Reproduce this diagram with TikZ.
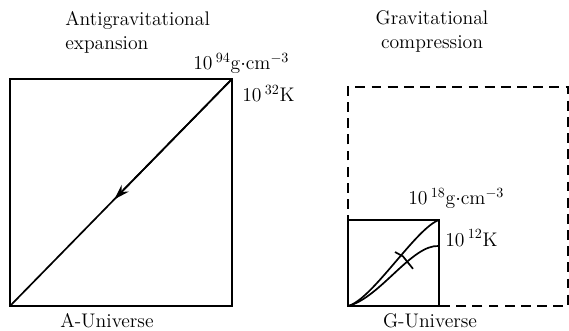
\documentclass[tikz,border=0pt]{standalone}
\usepackage{amsmath}
\usetikzlibrary{arrows.meta, positioning, calc}

\begin{document}
\begin{tikzpicture}[
    frame/.style={draw=black, line width=1.6pt},
    ghost/.style={draw=black, line width=1.2pt, dash pattern=on 7pt off 4.5pt},
    track/.style={draw=black, line width=1.2pt},
    lbl/.style={font=\fontsize{14}{17}\selectfont, inner sep=0pt},
  ]
  \useasboundingbox (0,0) rectangle (14.225,8.25);

  % A-Universe: expansion box with its diagonal
  \coordinate (Asw) at (0.25,0.6);
  \coordinate (Ane) at (5.8,6.275);
  \draw[frame] (Asw) rectangle (Ane);
  \draw[track] (Ane) -- (Asw);
  \draw[track, -{Stealth[length=11pt, width=7pt]}] (Ane) -- ($(Ane)!0.53!(Asw)$);

  \node[lbl, anchor=north west, align=left] (atitle) at (1.625,7.98) {Antigravitational\\expansion};
  \node[lbl, anchor=base west] (adens) at ($(Ane)+(-0.975,0.225)$) {10\,$^{94}$g$\cdot$cm$^{-3}$};
  \node[lbl, anchor=base west] (atemp) at ($(Ane)+(0.25,-0.575)$) {10\,$^{32}$K};
  \node[lbl, anchor=base] (aname) at (2.675,0.075) {A-Universe};

  % G-Universe: dashed outline and small compression box
  \coordinate (Gsw) at (8.7,0.6);
  \coordinate (Gne) at (10.975,2.75);
  \coordinate (Glow) at (10.975,2.1);
  \coordinate (Dne) at (14.2,6.075);
  \draw[ghost] (Gsw) rectangle (Dne);
  \draw[frame, fill=white] (Gsw) rectangle (Gne);
  \draw[track] (Gsw) .. controls (9.3,0.75) and (10.4,2.55) .. (Gne);
  \draw[track] (Gsw) .. controls (9.5,0.8) and (10.3,2.15) .. (Glow);
  \draw[track] (9.875,1.95) -- (10.075,1.84) -- (10.325,1.53);

  \node[lbl, anchor=north, align=center] (gtitle) at (10.8,7.98) {Gravitational\\compression};
  \node[lbl, anchor=base west] (gdens) at ($(Gne)+(-0.775,0.375)$) {10\,$^{18}$g$\cdot$cm$^{-3}$};
  \node[lbl, anchor=base west] (gtemp) at ($(Gne)+(0.15,-0.65)$) {10\,$^{12}$K};
  \node[lbl, anchor=base] (gname) at (10.75,0.075) {G-Universe};
\end{tikzpicture}
\end{document}
